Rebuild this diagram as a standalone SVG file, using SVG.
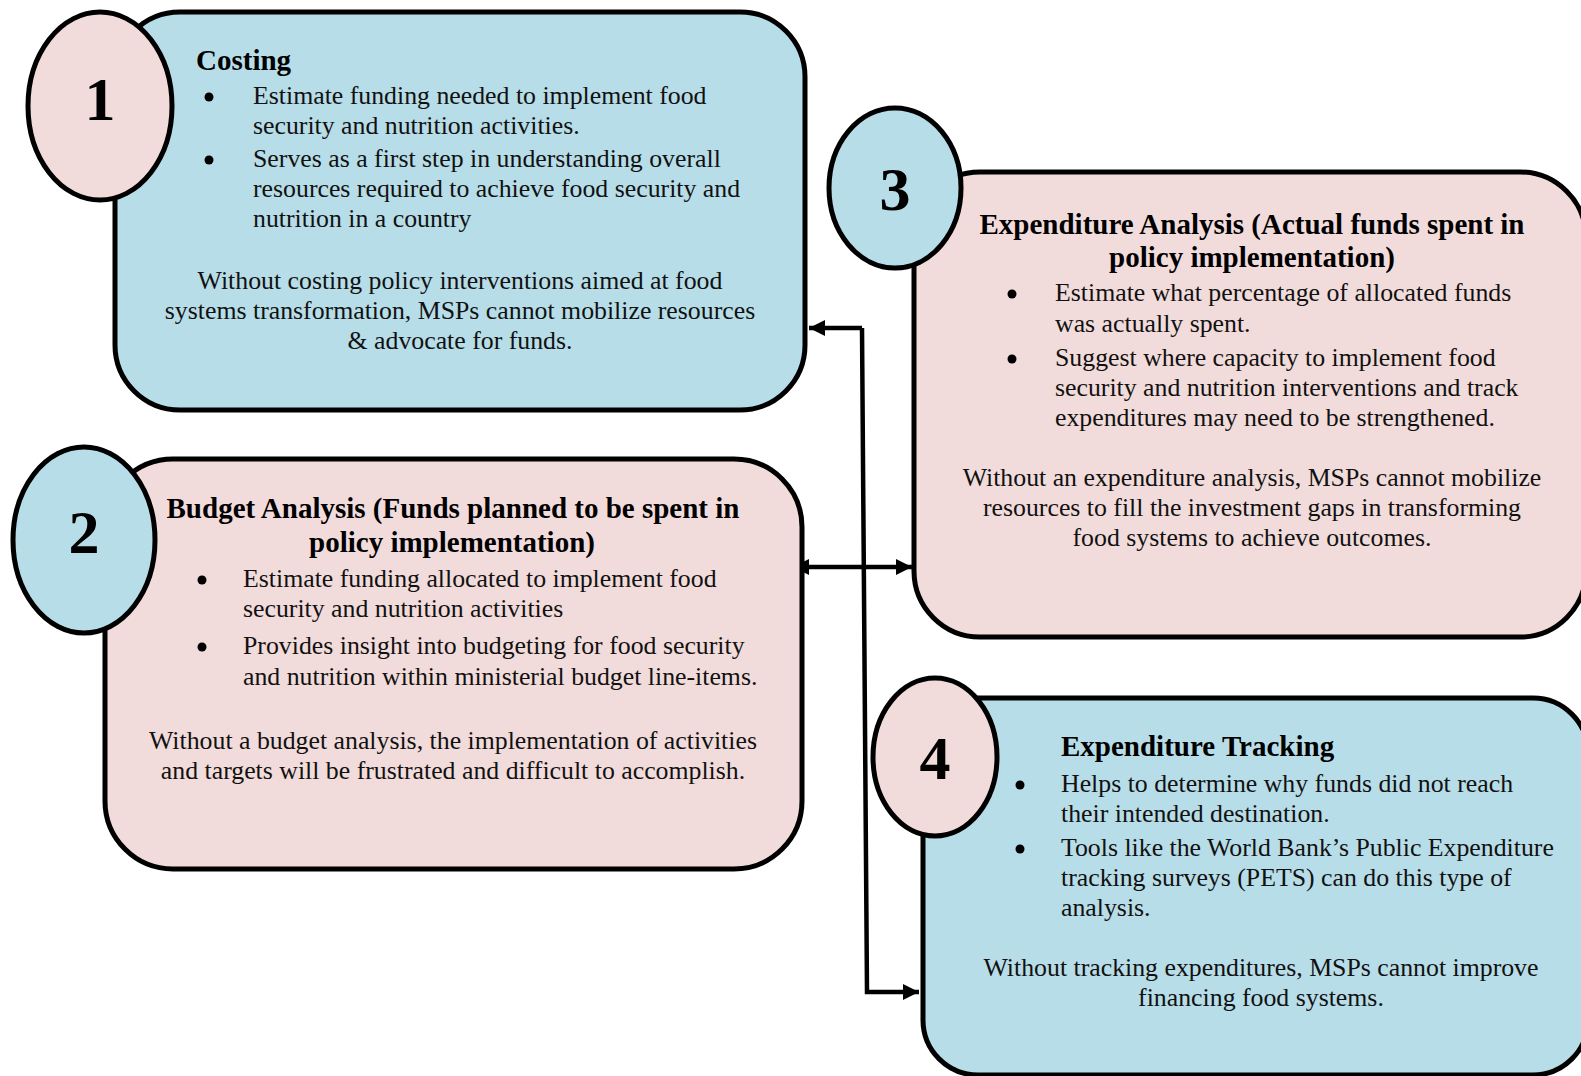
<svg xmlns="http://www.w3.org/2000/svg" width="1581" height="1076" viewBox="0 0 1581 1076">
<style>
.box{stroke:#000;stroke-width:5}
.blue{fill:#b7dde8}
.pink{fill:#f2dcdb}
.num{font-family:"Liberation Serif",serif;font-weight:bold;font-size:62px;text-anchor:middle;fill:#000}
.t{font-family:"Liberation Serif",serif;font-size:25.8px;fill:#111}
.b{font-family:"Liberation Serif",serif;font-size:29px;font-weight:bold;fill:#000}
.c{text-anchor:middle}
.con{fill:none;stroke:#000;stroke-width:4.5}
</style>
<defs>
<marker id="ah" viewBox="0 0 10 10" refX="10" refY="5" markerWidth="16" markerHeight="18" markerUnits="userSpaceOnUse" orient="auto-start-reverse">
<path d="M0,0 L10,5 L0,10 z" fill="#000"/>
</marker>
</defs>
<rect width="1581" height="1076" fill="#fff"/>

<g id="connectors">
<path class="con" d="M862,328 L867,992 L919,992" marker-end="url(#ah)"/>
<path class="con" d="M862,328 L809,328" marker-end="url(#ah)"/>
<path class="con" d="M793,567 L912,567" marker-start="url(#ah)" marker-end="url(#ah)"/>
</g>

<g id="node1">
<rect class="box blue" x="115" y="12" width="690" height="398" rx="65"/>
<ellipse class="box pink" cx="100" cy="106" rx="72" ry="94"/>
<text class="num" x="100" y="120">1</text>
<g transform="translate(0,2)">
<text class="b" x="196" y="68">Costing</text>
<circle cx="209" cy="95" r="4.5"/>
<text class="t" x="253" y="102">Estimate funding needed to implement food</text>
<text class="t" x="253" y="132">security and nutrition activities.</text>
<circle cx="209" cy="158" r="4.5"/>
<text class="t" x="253" y="165">Serves as a first step in understanding overall</text>
<text class="t" x="253" y="195">resources required to achieve food security and</text>
<text class="t" x="253" y="225">nutrition in a country</text>
<text class="t c" x="460" y="287">Without costing policy interventions aimed at food</text>
<text class="t c" x="460" y="317">systems transformation, MSPs cannot mobilize resources</text>
<text class="t c" x="460" y="347">&amp; advocate for funds.</text>
</g>
</g>

<g id="node2">
<rect class="box pink" x="105" y="459" width="697" height="410" rx="68"/>
<ellipse class="box blue" cx="84" cy="540" rx="71" ry="93"/>
<text class="num" x="84" y="553">2</text>
<g transform="translate(0,2)">
<text class="b c" x="453" y="516">Budget Analysis (Funds planned to be spent in</text>
<text class="b c" x="452" y="550">policy implementation)</text>
<circle cx="202" cy="578" r="4.5"/>
<text class="t" x="243" y="585">Estimate funding allocated to implement food</text>
<text class="t" x="243" y="615">security and nutrition activities</text>
<circle cx="202" cy="645" r="4.5"/>
<text class="t" x="243" y="652">Provides insight into budgeting for food security</text>
<text class="t" x="243" y="683">and nutrition within ministerial budget line-items.</text>
<text class="t c" x="453" y="747">Without a budget analysis, the implementation of activities</text>
<text class="t c" x="453" y="777">and targets will be frustrated and difficult to accomplish.</text>
</g>
</g>

<g id="node3">
<rect class="box pink" x="914" y="172" width="672" height="465" rx="66"/>
<ellipse class="box blue" cx="895" cy="188" rx="66" ry="80"/>
<text class="num" x="895" y="210">3</text>
<g transform="translate(0,2)">
<text class="b c" x="1252" y="232">Expenditure Analysis (Actual funds spent in</text>
<text class="b c" x="1252" y="265">policy implementation)</text>
<circle cx="1012" cy="292" r="4.5"/>
<text class="t" x="1055" y="299">Estimate what percentage of allocated funds</text>
<text class="t" x="1055" y="330">was actually spent.</text>
<circle cx="1012" cy="357" r="4.5"/>
<text class="t" x="1055" y="364">Suggest where capacity to implement food</text>
<text class="t" x="1055" y="394">security and nutrition interventions and track</text>
<text class="t" x="1055" y="424">expenditures may need to be strengthened.</text>
<text class="t c" x="1252" y="484">Without an expenditure analysis, MSPs cannot mobilize</text>
<text class="t c" x="1252" y="514">resources to fill the investment gaps in transforming</text>
<text class="t c" x="1252" y="544">food systems to achieve outcomes.</text>
</g>
</g>

<g id="node4">
<rect class="box blue" x="923" y="698" width="665" height="377" rx="55"/>
<ellipse class="box pink" cx="935" cy="757" rx="62" ry="79"/>
<text class="num" x="935" y="779">4</text>
<g transform="translate(0,2)">
<text class="b" x="1061" y="754">Expenditure Tracking</text>
<circle cx="1020" cy="783" r="4.5"/>
<text class="t" x="1061" y="790">Helps to determine why funds did not reach</text>
<text class="t" x="1061" y="820">their intended destination.</text>
<circle cx="1020" cy="847" r="4.5"/>
<text class="t" x="1061" y="854">Tools like the World Bank’s Public Expenditure</text>
<text class="t" x="1061" y="884">tracking surveys (PETS) can do this type of</text>
<text class="t" x="1061" y="914">analysis.</text>
<text class="t c" x="1261" y="974">Without tracking expenditures, MSPs cannot improve</text>
<text class="t c" x="1261" y="1004">financing food systems.</text>
</g>
</g>
</svg>
